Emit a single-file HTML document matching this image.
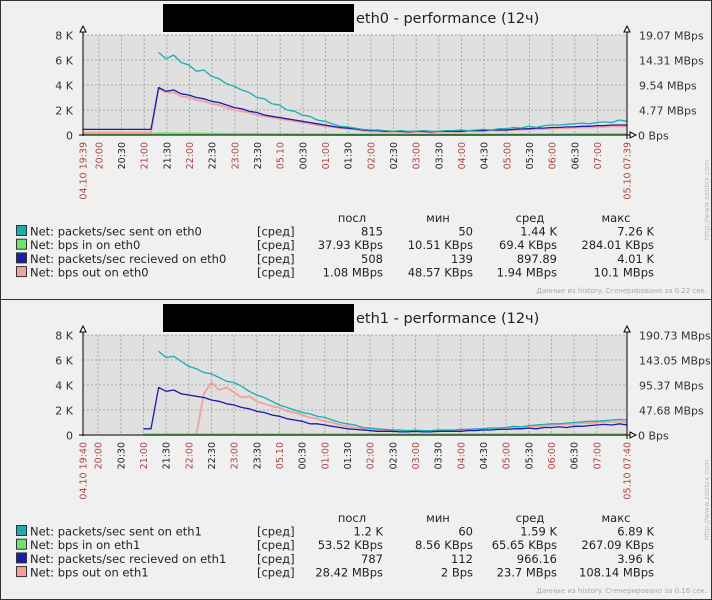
<!DOCTYPE html>
<html><head><meta charset="utf-8">
<style>
html,body{margin:0;padding:0;background:#f0f0f0;}
body{width:712px;height:600px;overflow:hidden;font-family:"DejaVu Sans","Liberation Sans",sans-serif;}
svg{display:block;}
</style></head>
<body>
<svg id="chart" width="712" height="600" viewBox="0 0 712 600"></svg>
<script>
// ---- data (every 10 min from start, null = no data) ----
const g1Title = "eth0 - performance (12ч)";
const g2Title = "eth1 - performance (12ч)";
const leftTicks = ["0","2 K","4 K","6 K","8 K"];
const g1RightTicks = ["0 Bps","4.77 MBps","9.54 MBps","14.31 MBps","19.07 MBps"];
const g2RightTicks = ["0 Bps","47.68 MBps","95.37 MBps","143.05 MBps","190.73 MBps"];
const timeLabels = ["20:00","20:30","21:00","21:30","22:00","22:30","23:00","23:30","05.10","00:30","01:00","01:30","02:00","02:30","03:00","03:30","04:00","04:30","05:00","05:30","06:00","06:30","07:00"];
const g1StartLabel = "04.10 19:39", g1EndLabel = "05.10 07:39";
const g2StartLabel = "04.10 19:40", g2EndLabel = "05.10 07:40";
// values in thousands (left axis units)
const g1Sent = [null,null,null,null,null,null,null,null,null,null,6.6,6.1,6.4,5.8,5.6,5.1,5.2,4.7,4.5,4.1,3.9,3.6,3.4,3.0,2.9,2.5,2.4,2.0,1.9,1.6,1.5,1.2,1.1,0.9,0.7,0.65,0.55,0.45,0.4,0.4,0.35,0.3,0.35,0.3,0.3,0.35,0.3,0.3,0.35,0.35,0.4,0.35,0.4,0.45,0.4,0.5,0.5,0.6,0.55,0.7,0.6,0.75,0.8,0.8,0.85,0.9,0.95,0.9,1.0,1.05,1.0,1.2,1.1];
const g1BpsIn = [0.05,0.05,0.05,0.05,0.05,0.05,0.05,0.05,0.05,0.05,0.12,0.12,0.11,0.1,0.1,0.09,0.09,0.08,0.08,0.07,0.07,0.06,0.06,0.06,0.05,0.05,0.05,0.05,0.04,0.04,0.04,0.04,0.04,0.03,0.03,0.03,0.03,0.03,0.03,0.03,0.03,0.03,0.03,0.03,0.03,0.03,0.03,0.03,0.03,0.03,0.03,0.03,0.03,0.03,0.03,0.03,0.04,0.04,0.04,0.04,0.04,0.04,0.04,0.04,0.05,0.05,0.05,0.05,0.05,0.05,0.05,0.05,0.05];
const g1Recv = [0.45,0.45,0.45,0.45,0.45,0.45,0.45,0.45,0.45,0.45,3.8,3.5,3.6,3.3,3.2,3.0,2.9,2.7,2.6,2.4,2.2,2.1,1.9,1.8,1.6,1.5,1.4,1.3,1.2,1.1,1.0,0.9,0.8,0.7,0.6,0.55,0.5,0.4,0.35,0.35,0.3,0.3,0.3,0.25,0.3,0.3,0.25,0.3,0.3,0.3,0.3,0.35,0.35,0.35,0.4,0.4,0.4,0.45,0.5,0.5,0.55,0.55,0.6,0.6,0.65,0.65,0.7,0.7,0.75,0.75,0.8,0.8,0.8];
const g1BpsOut = [0.2,0.2,0.2,0.2,0.2,0.2,0.2,0.2,0.2,0.2,3.7,3.4,3.4,3.1,3.0,2.8,2.7,2.5,2.4,2.2,2.0,1.9,1.8,1.6,1.5,1.4,1.3,1.2,1.1,1.0,0.9,0.8,0.7,0.65,0.55,0.5,0.45,0.35,0.3,0.3,0.25,0.25,0.25,0.2,0.25,0.25,0.2,0.25,0.25,0.25,0.25,0.3,0.3,0.3,0.35,0.35,0.35,0.4,0.4,0.45,0.45,0.5,0.5,0.55,0.55,0.6,0.6,0.6,0.65,0.65,0.7,0.7,0.7];
const g2Sent = [null,null,null,null,null,null,null,null,null,null,6.7,6.2,6.3,5.9,5.5,5.3,5.0,4.9,4.6,4.3,4.2,3.9,3.5,3.2,3.0,2.7,2.4,2.2,2.0,1.8,1.7,1.5,1.4,1.2,1.0,0.9,0.8,0.6,0.55,0.5,0.45,0.4,0.4,0.35,0.4,0.35,0.35,0.4,0.4,0.4,0.45,0.45,0.5,0.5,0.55,0.55,0.6,0.7,0.65,0.75,0.8,0.85,0.9,0.9,0.95,1.0,1.05,1.1,1.1,1.15,1.2,1.25,1.2];
const g2BpsIn = [null,null,null,null,null,null,null,null,0.03,0.03,0.04,0.04,0.04,0.04,0.04,0.04,0.04,0.04,0.04,0.04,0.04,0.04,0.04,0.04,0.04,0.04,0.04,0.04,0.04,0.04,0.04,0.04,0.04,0.04,0.04,0.04,0.04,0.04,0.04,0.04,0.04,0.04,0.04,0.04,0.04,0.04,0.04,0.04,0.04,0.04,0.04,0.04,0.04,0.04,0.04,0.04,0.04,0.04,0.04,0.04,0.04,0.04,0.04,0.04,0.04,0.04,0.04,0.04,0.04,0.04,0.04,0.04,0.04];
const g2Recv = [null,null,null,null,null,null,null,null,0.5,0.5,3.8,3.5,3.6,3.3,3.2,3.1,3.0,2.8,2.7,2.5,2.4,2.2,2.1,1.9,1.8,1.6,1.5,1.3,1.2,1.1,0.9,0.9,0.8,0.7,0.6,0.5,0.45,0.4,0.35,0.3,0.3,0.3,0.25,0.25,0.3,0.25,0.25,0.3,0.3,0.3,0.3,0.35,0.35,0.4,0.4,0.45,0.45,0.5,0.5,0.55,0.5,0.6,0.6,0.65,0.6,0.7,0.7,0.75,0.8,0.85,0.8,0.9,0.8];
const g2BpsOut = [null,null,null,null,null,null,null,null,null,null,null,null,null,null,null,0.0,3.3,4.2,3.6,3.8,3.4,3.0,3.1,2.7,2.5,2.3,2.2,1.9,1.8,1.6,1.4,1.3,1.1,1.0,0.8,0.7,0.6,0.5,0.45,0.4,0.35,0.35,0.3,0.3,0.3,0.3,0.3,0.35,0.35,0.35,0.4,0.45,0.45,0.5,0.55,0.55,0.6,0.65,0.6,0.7,0.7,0.75,0.8,0.85,0.85,0.9,0.95,0.95,1.0,1.05,1.05,1.1,1.0];
const g1Legend = [["Net: packets/sec sent on eth0","815","50","1.44 K","7.26 K"],["Net: bps in on eth0","37.93 KBps","10.51 KBps","69.4 KBps","284.01 KBps"],["Net: packets/sec recieved on eth0","508","139","897.89","4.01 K"],["Net: bps out on eth0","1.08 MBps","48.57 KBps","1.94 MBps","10.1 MBps"]];
const g2Legend = [["Net: packets/sec sent on eth1","1.2 K","60","1.59 K","6.89 K"],["Net: bps in on eth1","53.52 KBps","8.56 KBps","65.65 KBps","267.09 KBps"],["Net: packets/sec recieved on eth1","787","112","966.16","3.96 K"],["Net: bps out on eth1","28.42 MBps","2 Bps","23.7 MBps","108.14 MBps"]];

const NS="http://www.w3.org/2000/svg";
const svg=document.getElementById('chart');
const colors=["#1aaeae","#6ee36e","#1c1caa","#f2a0a0"];
const X0=83,X1=627,SPAN=720,STEP=10,YMAX=8;
function el(tag,attrs,parent,text){const e=document.createElementNS(NS,tag);for(const k in attrs)e.setAttribute(k,attrs[k]);if(text!==undefined)e.textContent=text;(parent||svg).appendChild(e);return e;}
function xs(m){return X0+m/SPAN*(X1-X0);}

function drawGraph(oy,title,rTicks,series,legend,startL,endL,offMin,gen){
  const g=el('g',{});
  
  
  const Y0=oy+35,Y1=oy+135;
  const ys=v=>Y1-v/YMAX*(Y1-Y0);
  const blk=el('rect',{x:163,y:oy+4,width:191,height:28,fill:'#000'},g);
  
  
  const t=el('text',{x:356,y:oy+23,'font-size':14.5,fill:'#222'},g,title);
  
  
  const pb=el('rect',{x:X0,y:Y0,width:X1-X0,height:Y1-Y0,fill:'#e0e0e0'},g);
  
  
  for(let i=0;i<leftTicks.length;i++){
    const y=ys(i*2);
    if(i>0)el('line',{x1:X0,x2:X1,y1:y,y2:y,stroke:'#a8a8a8','stroke-dasharray':'2,2'},g);
    const lt=el('text',{x:73,y:y+4.5,'font-size':11,fill:'#333','text-anchor':'end'},g,leftTicks[i]);
    
    
    const rt=el('text',{x:i==0?638:639,y:y+4.5,'font-size':11,fill:'#333'},g,rTicks[i]);
    
    
  }
  for(let i=0;i<timeLabels.length;i++){
    const m=offMin+30*i, x=xs(m);
    el('line',{x1:x,x2:x,y1:Y0,y2:Y1,stroke:'#a8a8a8','stroke-dasharray':'2,2'},g);
    const red=!timeLabels[i].endsWith(':30');
    const tl=el('text',{x:0,y:0,'font-size':9.5,fill:red?'#a44':'#222','text-anchor':'end',transform:`translate(${x+3.5},${Y1+7}) rotate(-90)`},g,timeLabels[i]);
    
    
  }
  [[0,startL],[SPAN,endL]].forEach(([m,s])=>{
    const tl=el('text',{x:0,y:0,'font-size':9.5,fill:'#a44','text-anchor':'end',transform:`translate(${xs(m)+3.5},${Y1+7}) rotate(-90)`},g,s);
    
    
  });
  const order=[3,1,2,0];
  order.forEach(si=>{
    const arr=series[si]; let segs=[],cur=[];
    arr.forEach((v,i)=>{ if(v===null){if(cur.length)segs.push(cur);cur=[];} else cur.push([xs(i*STEP),ys(v)]);});
    if(cur.length)segs.push(cur);
    segs.forEach(s=>{
      if(s.length===1)s.push([s[0][0]+2,s[0][1]]);
      const d='M'+s.map(p=>p[0].toFixed(1)+','+p[1].toFixed(1)).join('L');
      const p=el('path',{d:d,fill:'none',stroke:colors[si],'stroke-width':si===1?2.5:(si===3?1.8:1.3),'stroke-linejoin':'round'},g);
      
      
    });
  });
  el('line',{x1:X0,x2:X0,y1:oy+28,y2:Y1+1,stroke:'#000'},g);
  el('path',{d:`M${X0-3},${oy+32}L${X0},${oy+26}L${X0+3},${oy+32}Z`,fill:'#fff',stroke:'#000'},g);
  el('line',{x1:X1,x2:X1,y1:oy+28,y2:Y1+4,stroke:'#000'},g);
  el('path',{d:`M${X1-3},${oy+32}L${X1},${oy+26}L${X1+3},${oy+32}Z`,fill:'#fff',stroke:'#000'},g);
  el('line',{x1:X0-4,x2:X1+3,y1:Y1,y2:Y1,stroke:'#000'},g);
  el('path',{d:`M${X1+3},${Y1-3}L${X1+9},${Y1}L${X1+3},${Y1+3}Z`,fill:'#fff',stroke:'#000'},g);
  const ly=oy+218, cols=[383,473,557,654];
  ["посл","мин","сред","макс"].forEach((h,i)=>{
    const ht=el('text',{x:[352,438,530,616][i],y:ly+4,'font-size':11.5,fill:'#222','text-anchor':'middle'},g,h);
    
    
  });
  legend.forEach((r,i)=>{
    const y=oy+231+i*13.7;
    const row=el('g',{},g);
    
    
    el('rect',{x:16.5,y:y-5.5,width:10,height:10,fill:colors[i],stroke:'#333'},row);
    el('text',{x:30,y:y+4.5,'font-size':11.5,fill:'#222'},row,r[0]);
    el('text',{x:257,y:y+4.5,'font-size':11.5,fill:'#222'},row,'[сред]');
    for(let c=0;c<4;c++)el('text',{x:cols[c],y:y+4.5,'font-size':11.5,fill:'#222','text-anchor':'end'},row,r[c+1]);
  });
  const ft=el('text',{x:707,y:oy+293,'font-size':7,fill:'#aaa','text-anchor':'end'},g,'Данные из history. Сгенерировано за '+gen+' сек.');
  
  
  const wm=el('text',{x:0,y:0,'font-size':7,fill:'#bbb','text-anchor':'middle',transform:`translate(709,${oy+200}) rotate(-90)`},g,'http://www.zabbix.com');
  
  
}
drawGraph(0,g1Title,g1RightTicks,[g1Sent,g1BpsIn,g1Recv,g1BpsOut],g1Legend,g1StartLabel,g1EndLabel,21,'0.22');
drawGraph(300,g2Title,g2RightTicks,[g2Sent,g2BpsIn,g2Recv,g2BpsOut],g2Legend,g2StartLabel,g2EndLabel,20,'0.16');
el('rect',{x:0.5,y:0.5,width:711,height:599,fill:'none',stroke:'#333'});
el('line',{x1:0,x2:712,y1:299.5,y2:299.5,stroke:'#333'});
</script>
</body></html>
